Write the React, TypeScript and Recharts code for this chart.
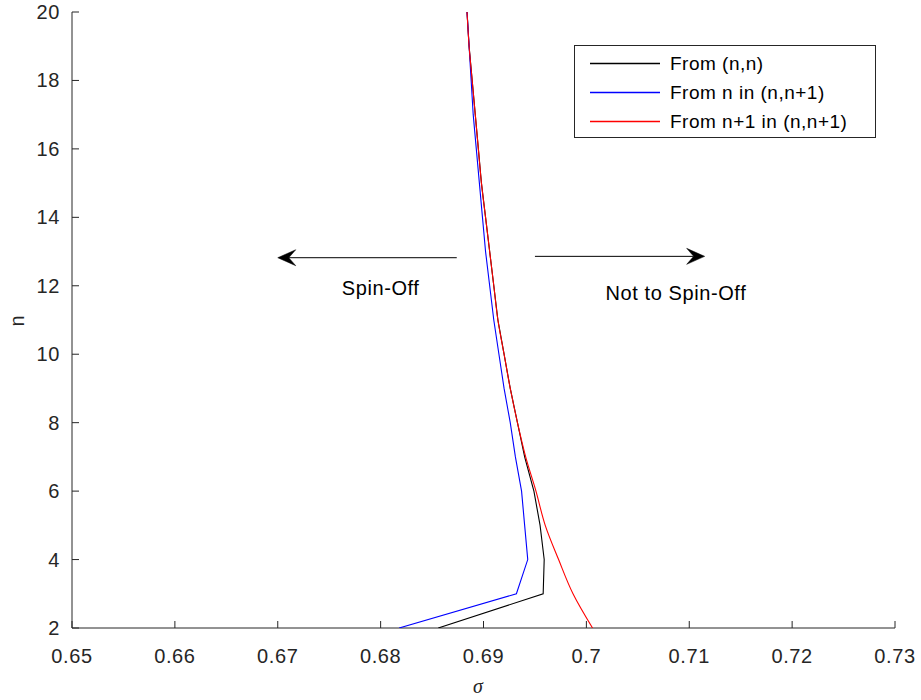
import { ScatterChart, Scatter, XAxis, YAxis, ReferenceLine, ReferenceDot } from 'recharts'

// n = 2 .. 20
const nValues = [2, 3, 4, 5, 6, 7, 8, 9, 10, 11, 12, 13, 14, 15, 16, 17, 18, 19, 20]

const sigmaFromNN = [
  0.6856, 0.6958, 0.6959, 0.6955, 0.6949, 0.694, 0.6933, 0.6926, 0.692, 0.6914,
  0.691, 0.6906, 0.6902, 0.6898, 0.6895, 0.6892, 0.6889, 0.6886, 0.6884,
]
const sigmaFromN = [
  0.6818, 0.6932, 0.6943, 0.694, 0.6937, 0.6931, 0.6926, 0.692, 0.6915, 0.691,
  0.6906, 0.6902, 0.6899, 0.6896, 0.6893, 0.689, 0.6888, 0.6886, 0.6884,
]
const sigmaFromN1 = [
  0.7006, 0.6987, 0.6973, 0.696, 0.6951, 0.6941, 0.6933, 0.6926, 0.692, 0.6914,
  0.691, 0.6906, 0.6902, 0.6898, 0.6895, 0.6892, 0.6889, 0.6886, 0.6884,
]

const xTicks = [0.65, 0.66, 0.67, 0.68, 0.69, 0.7, 0.71, 0.72, 0.73]
const yTicks = [2, 4, 6, 8, 10, 12, 14, 16, 18, 20]

const seriesNames = ['From (n,n)', 'From n in (n,n+1)', 'From n+1 in (n,n+1)']
const seriesColors = ['#000000', '#0000ff', '#ff0000']

// annotation arrows: [fromSigma, toSigma, n]
const arrows = [
  [0.6874, 0.67, 12.82],
  [0.695, 0.7115, 12.86],
]
const notes = [
  { text: 'Spin-Off', sigma: 0.68, n: 11.73 },
  { text: 'Not to Spin-Off', sigma: 0.7087, n: 11.58 },
]

const AXIS = '#262626'
const FONT = '"Liberation Sans", Arial, sans-serif'

const toPoints = (sig: number[]) => nValues.map((n, i) => ({ sigma: sig[i], n }))

function XTick({ x, y, payload }: any) {
  return (
    <g>
      <line x1={x} y1={y} x2={x} y2={y - 7} stroke={AXIS} />
      <text x={x} y={y + 35} textAnchor="middle" fill={AXIS} fontSize={20} fontFamily={FONT} letterSpacing={0.6}>
        {String(payload.value)}
      </text>
    </g>
  )
}

function YTick({ x, y, payload }: any) {
  return (
    <g>
      <line x1={x} y1={y} x2={x + 7} y2={y} stroke={AXIS} />
      <text x={x - 12} y={y + 7} textAnchor="end" fill={AXIS} fontSize={20} fontFamily={FONT} letterSpacing={0.6}>
        {String(payload.value)}
      </text>
    </g>
  )
}

function Arrow(props: any) {
  const { x1, y1, x2, y2 } = props
  const dir = x2 > x1 ? 1 : -1
  const len = 18
  const half = 8
  const notch = 11
  const head = `M${x2},${y2} L${x2 - dir * len},${y2 - half} L${x2 - dir * notch},${y2} L${x2 - dir * len},${y2 + half} Z`
  return (
    <g>
      <line x1={x1} y1={y1} x2={x2 - dir * notch} y2={y2} stroke="#000" strokeWidth={1} />
      <path d={head} fill="#000" stroke="#000" strokeWidth={0.5} />
    </g>
  )
}

const empty = () => <g />

export default function App() {
  const data = [sigmaFromNN, sigmaFromN, sigmaFromN1].map(toPoints)

  return (
    <div style={{ position: 'absolute', left: 0, top: 0, width: 921, height: 700, background: '#fff' }}>
      <ScatterChart width={921} height={700} margin={{ top: 12, right: 26, left: 0, bottom: 0 }}>
        <XAxis
          type="number"
          dataKey="sigma"
          domain={[0.65, 0.73]}
          ticks={xTicks}
          allowDataOverflow
          height={72}
          tickSize={0}
          tickMargin={0}
          tickLine={false}
          axisLine={{ stroke: AXIS }}
          tick={<XTick />}
          interval={0}
          label={{
            content: () => (
              <text x={478} y={693} textAnchor="middle" fill={AXIS} fontSize={20} fontStyle="italic" fontFamily='"Liberation Serif", serif'>
                σ
              </text>
            ),
          }}
        />
        <YAxis
          type="number"
          dataKey="n"
          domain={[2, 20]}
          ticks={yTicks}
          allowDataOverflow
          width={72}
          tickSize={0}
          tickMargin={0}
          tickLine={false}
          axisLine={{ stroke: AXIS }}
          tick={<YTick />}
          interval={0}
          label={{
            content: () => (
              <text x={24} y={321} textAnchor="middle" fill={AXIS} fontSize={20} fontFamily={FONT} transform="rotate(-90 24 321)">
                n
              </text>
            ),
          }}
        />
        {data.map((pts, i) => (
          <Scatter
            key={seriesNames[i]}
            name={seriesNames[i]}
            data={pts}
            line={{ stroke: seriesColors[i], strokeWidth: 1.1 }}
            lineJointType={i === 2 ? 'monotoneY' : 'linear'}
            shape={empty}
            isAnimationActive={false}
          />
        ))}
        {arrows.map(([from, to, n], i) => (
          <ReferenceLine
            key={`arrow-${i}`}
            segment={[
              { x: from, y: n },
              { x: to, y: n },
            ]}
            shape={Arrow}
          />
        ))}
        {notes.map((note) => (
          <ReferenceDot
            key={note.text}
            x={note.sigma}
            y={note.n}
            r={1}
            shape={(p: any) => (
              <text x={p.cx} y={p.cy} textAnchor="middle" fill="#000" fontSize={20} fontFamily={FONT} letterSpacing={0.6}>
                {note.text}
              </text>
            )}
          />
        ))}
      </ScatterChart>
      <svg
        width={302}
        height={93}
        style={{ position: 'absolute', left: 574, top: 45 }}
        fontFamily={FONT}
        fontSize={19}
      >
        <rect x={0.5} y={0.5} width={301} height={92} fill="#fff" stroke={AXIS} />
        {seriesNames.map((name, i) => (
          <g key={name}>
            <line x1={16} x2={86} y1={18.5 + i * 29} y2={18.5 + i * 29} stroke={seriesColors[i]} strokeWidth={1.5} />
            <text x={96} y={25 + i * 29} fill="#000" letterSpacing={0.5}>
              {name}
            </text>
          </g>
        ))}
      </svg>
    </div>
  )
}
